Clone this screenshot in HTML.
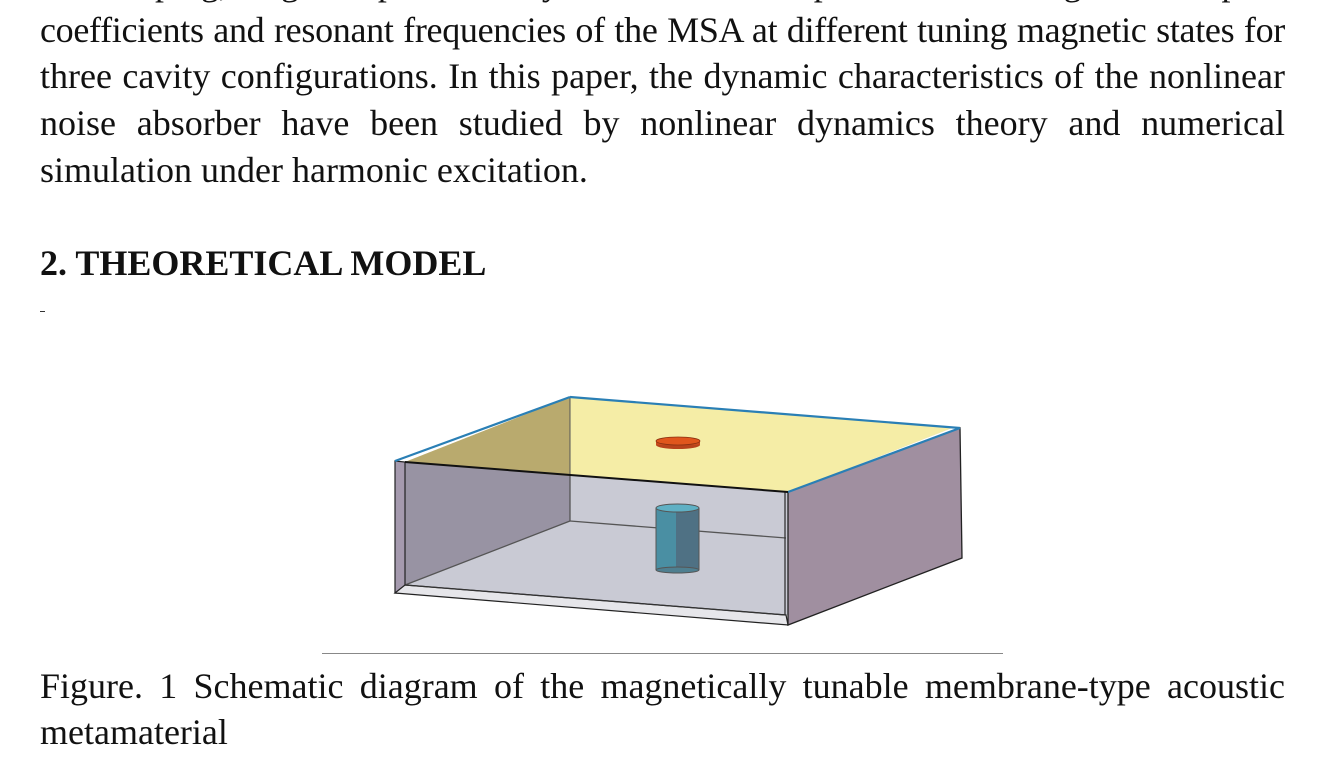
<!DOCTYPE html>
<html><head><meta charset="utf-8"><style>
html,body{margin:0;padding:0;background:#fff;width:1335px;height:757px;overflow:hidden;position:relative}
.t{position:absolute;left:40px;width:1245px;font-family:"Liberation Serif",serif;font-size:36px;color:#111;text-align:justify;text-align-last:justify;white-space:nowrap;line-height:1}
.l{text-align-last:left}
</style></head><body>
<div class="t" style="top:-35px">the damping, magnetic permeability and the relative space were investigated to explore</div>
<div class="t" style="top:12px;letter-spacing:-0.3px">coefficients and resonant frequencies of the MSA at different tuning magnetic states for</div>
<div class="t" style="top:58px">three cavity configurations. In this paper, the dynamic characteristics of the nonlinear</div>
<div class="t" style="top:105px">noise absorber have been studied by nonlinear dynamics theory and numerical</div>
<div class="t l" style="top:152px">simulation under harmonic excitation.</div>
<div class="t l" style="top:245px;font-weight:bold">2. THEORETICAL MODEL</div>
<div style="position:absolute;left:40px;top:311px;width:5px;height:1px;background:#333"></div>
<svg style="position:absolute;left:0;top:0" width="1335" height="757">
<polygon points="570,397 952,428 788,492 788,615 405,585 570,521" fill="#c9cad4"/>
<polygon points="405,462 570,397 570,521 405,585" fill="#9893a3"/>
<line x1="570" y1="521" x2="786" y2="538" stroke="#555" stroke-width="1.3"/>
<line x1="405" y1="585" x2="570" y2="521" stroke="#555" stroke-width="1.3"/>
<line x1="570" y1="397" x2="570" y2="521" stroke="#555" stroke-width="1.3"/>
<polygon points="405,462 570,397 952,428 788,492" fill="#f5eda6"/>
<polygon points="405,462 570,397 570,476" fill="#b9aa6e"/>
<line x1="570" y1="397" x2="570" y2="476" stroke="#555" stroke-width="1"/>
<polygon points="395,461 405,462 405,593 395,593" fill="#a59aae" stroke="#222" stroke-width="1.2"/>
<polygon points="395,593 405,585 786,615 788,625" fill="#e6e6ea" stroke="#222" stroke-width="1.2"/>
<line x1="405" y1="585" x2="786" y2="615" stroke="#333" stroke-width="1.3"/>
<polygon points="788,492 960,428 962,558 788,625" fill="#a08fa0" stroke="#222" stroke-width="1.3"/>
<line x1="785" y1="492" x2="785" y2="615" stroke="#333" stroke-width="1.3"/>
<line x1="395" y1="461" x2="570" y2="397" stroke="#2a7fb5" stroke-width="2.2"/>
<line x1="570" y1="397" x2="960" y2="428" stroke="#2a7fb5" stroke-width="2.2"/>
<line x1="960" y1="428" x2="788" y2="492" stroke="#2a7fb5" stroke-width="2.2"/>
<line x1="405" y1="462" x2="788" y2="492" stroke="#111" stroke-width="2"/>
<rect x="656" y="508" width="43" height="62" fill="#4a8fa3"/>
<rect x="676" y="508" width="23" height="62" fill="#4f7184"/>
<ellipse cx="677.5" cy="570" rx="21.5" ry="3" fill="#4f7f90" stroke="#555"/>
<ellipse cx="677.5" cy="508" rx="21.5" ry="4" fill="#5fb0c4" stroke="#555"/>
<line x1="656" y1="508" x2="656" y2="570" stroke="#555"/>
<line x1="699" y1="508" x2="699" y2="570" stroke="#555"/>
<ellipse cx="678" cy="445" rx="22" ry="4" fill="#b8431b"/>
<rect x="656" y="441" width="44" height="4" fill="#c74a1c"/>
<ellipse cx="678" cy="441" rx="22" ry="4" fill="#e0561c" stroke="#8a3010" stroke-width="0.8"/>
<line x1="322" y1="653.5" x2="1003" y2="653.5" stroke="#888" stroke-width="1"/>
</svg>
<div class="t" style="top:668px">Figure. 1 Schematic diagram of the magnetically tunable membrane-type acoustic</div>
<div class="t l" style="top:714px">metamaterial</div>
</body></html>
